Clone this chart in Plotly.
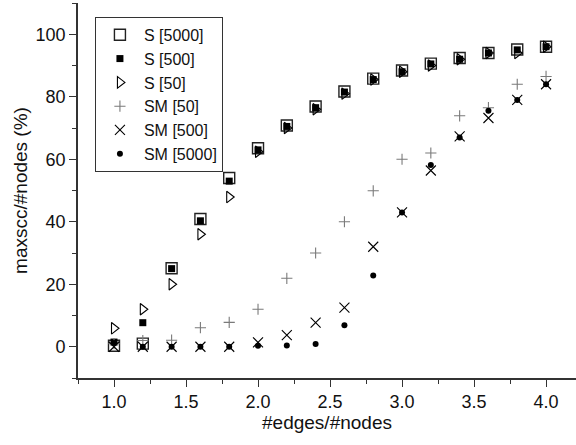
import plotly.graph_objects as go

# Ratio of edges to nodes
ratio = [1.0, 1.2, 1.4, 1.6, 1.8, 2.0, 2.2, 2.4, 2.6, 2.8, 3.0, 3.2, 3.4, 3.6, 3.8, 4.0]

# Size of the largest strongly connected component, percent of nodes
s_5000 = [0.3, 1.0, 25.1, 40.9, 54.0, 63.5, 70.8, 76.9, 81.7, 85.8, 88.4, 90.6, 92.4, 94.0, 95.1, 96.0]
s_500 = [1.5, 7.7, 25.0, 40.3, 53.0, 63.0, 70.5, 76.5, 81.5, 85.5, 88.0, 90.5, 92.0, 94.0, 95.0, 96.0]
s_50 = [5.9, 12.0, 20.0, 36.0, 47.9, 62.4, 70.0, 76.0, 81.0, 85.5, 88.0, 90.0, 92.0, 94.0, 94.0, 96.0]
sm_50 = [1.0, 2.0, 2.1, 6.1, 7.8, 12.0, 21.9, 30.0, 40.0, 49.9, 60.0, 62.0, 73.9, 76.5, 84.0, 86.5]
sm_500 = [0.0, 0.0, 0.0, 0.0, 0.0, 1.4, 3.7, 7.7, 12.5, 32.0, 43.0, 56.4, 67.3, 73.2, 79.0, 84.0]
sm_5000 = [1.2, 0.0, 0.0, 0.0, 0.0, 0.3, 0.4, 0.9, 6.9, 22.8, 43.0, 58.2, 67.0, 75.5, 79.0, 84.0]

series = [
    ("S [5000]", s_5000, "square-open", 11, "#222222", 1.4),
    ("S [500]", s_500, "square", 7, "#000000", 0),
    ("S [50]", s_50, "triangle-right-open", 10, "#000000", 1.1),
    ("SM [50]", sm_50, "cross-thin-open", 8, "#7a7a7a", 1.1),
    ("SM [500]", sm_500, "x-thin-open", 10, "#000000", 1.1),
    ("SM [5000]", sm_5000, "circle", 6, "#000000", 0),
]

FONT = "Liberation Sans, Arial, sans-serif"
LINE = "#333333"

fig = go.Figure()
for name, vals, sym, size, color, lw in series:
    fig.add_trace(go.Scatter(
        x=ratio, y=vals, mode="markers", name=name,
        marker=dict(symbol=sym, size=size, color=color,
                    line=dict(width=lw, color=color)),
    ))

axis_common = dict(
    showgrid=False, zeroline=False, showline=True,
    linecolor=LINE, linewidth=1.6,
    tickcolor=LINE, tickwidth=1.2, ticklen=7,
)

fig.update_layout(
    width=576, height=445,
    margin=dict(l=78, r=0, t=3, b=67),
    plot_bgcolor="white", paper_bgcolor="white",
    font=dict(family=FONT, color="#111111", size=18),
    xaxis=dict(
        range=[0.75, 4.208], tick0=1.0, dtick=0.5, ticks="outside",
        tickformat=".1f", tickfont=dict(size=18),
        minor=dict(dtick=0.25, ticks="outside", ticklen=4, tickcolor=LINE, tickwidth=1.2),
        title=dict(text="#edges/#nodes", font=dict(size=19), standoff=0),
        **axis_common,
    ),
    yaxis=dict(
        range=[-10, 110], tick0=0, dtick=20, ticks="outside",
        tickfont=dict(size=18),
        minor=dict(dtick=10, ticks="outside", ticklen=4, tickcolor=LINE, tickwidth=1.2),
        title=dict(text="maxscc/#nodes (%)", font=dict(size=19), standoff=3),
        **axis_common,
    ),
    xaxis2=dict(
        overlaying="x", matches="x", anchor="y", side="top",
        tick0=1.0, dtick=0.5, ticks="inside", showticklabels=False,
        minor=dict(dtick=0.25, ticks="inside", ticklen=4, tickcolor=LINE, tickwidth=1.2),
        **axis_common,
    ),
    yaxis2=dict(
        overlaying="y", matches="y", anchor="x", side="right",
        tick0=0, dtick=20, ticks="inside", showticklabels=False,
        minor=dict(dtick=10, ticks="inside", ticklen=4, tickcolor=LINE, tickwidth=1.2),
        **axis_common,
    ),
    legend=dict(
        x=0.034, y=0.963, xanchor="left", yanchor="top",
        bordercolor=LINE, borderwidth=1, bgcolor="white",
        font=dict(size=16), tracegroupgap=0, itemwidth=38,
    ),
    showlegend=True,
)

fig.write_html("out.html")
